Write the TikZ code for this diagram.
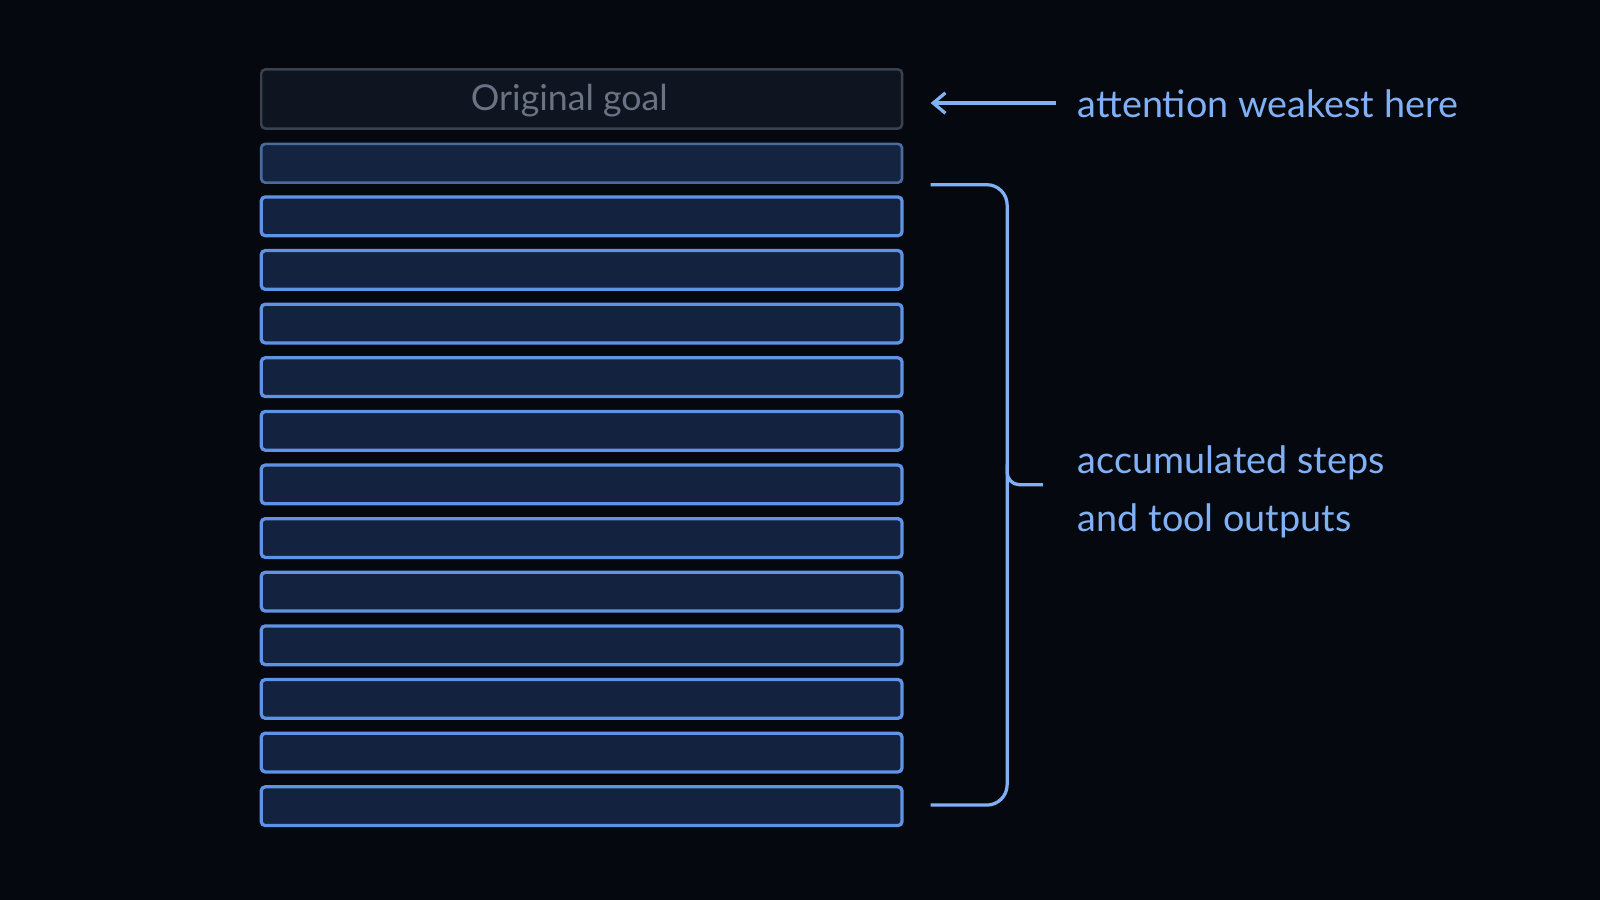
\documentclass[tikz,border=0pt]{standalone}
\usepackage{fontspec}
\setmainfont{Lato}
\usetikzlibrary{arrows.meta}
\definecolor{bg}{HTML}{05080F}
\definecolor{boxfill}{HTML}{13223F}
\definecolor{boxline}{HTML}{5E93E6}
\definecolor{dimline}{HTML}{4A6BA0}
\definecolor{dimfill}{HTML}{142340}
\definecolor{goalfill}{HTML}{0E1420}
\definecolor{goalline}{HTML}{3A4250}
\definecolor{goaltext}{HTML}{6A7383}
\definecolor{lbl}{HTML}{80B0F5}
\tikzset{
 px/.style={x=0.5pt,y=-0.5pt},
 stepbox/.style={draw=boxline,fill=boxfill,line width=1.6pt,rounded corners=2pt},
 dimbox/.style={draw=dimline,fill=dimfill,line width=1.3pt,rounded corners=2pt},
 goalbox/.style={draw=goalline,fill=goalfill,line width=1.2pt,rounded corners=2pt},
 lab/.style={text=lbl,font=\fontsize{18.5}{24}\selectfont,anchor=west,inner sep=0pt},
 conn/.style={draw=lbl,line width=1.6pt}
}
\begin{document}
\begin{tikzpicture}[px]
\fill[bg] (0,0) rectangle (1568,882);
\useasboundingbox (0,0) rectangle (1568,882);
\draw[goalbox] (256,68) rectangle (884,126);
\node[text=goaltext,font=\fontsize{17.5}{20}\selectfont] (goal) at (558,99) {Original goal};
\draw[dimbox] (256,141) rectangle (884,179);
\foreach \i in {0,...,11}{
 \pgfmathsetmacro\yy{193+52.55*\i}
 \draw[stepbox] (256,\yy) rectangle (884,\yy+38);
}
\coordinate (as) at (1035,101);
\coordinate (ae) at (912,101);
\draw[conn,-{Straight Barb[length=6pt,width=10pt]}] (as) -- (ae);
\node[lab] (t1) at (1056,102) {attention weakest here};
\coordinate (b1) at (912,181);
\coordinate (b2) at (912,789);
\coordinate (bm) at (1022,475);
\draw[conn,rounded corners=10pt] (b1) -- (987,181) -- (987,789) -- (b2);
\draw[conn,rounded corners=6pt] (987,455) -- (987,475) -- (bm);
\node[lab] (t2) at (1056,454) {accumulated steps};
\node[lab] (t3) at (1056,510) {and tool outputs};
\end{tikzpicture}
\end{document}
